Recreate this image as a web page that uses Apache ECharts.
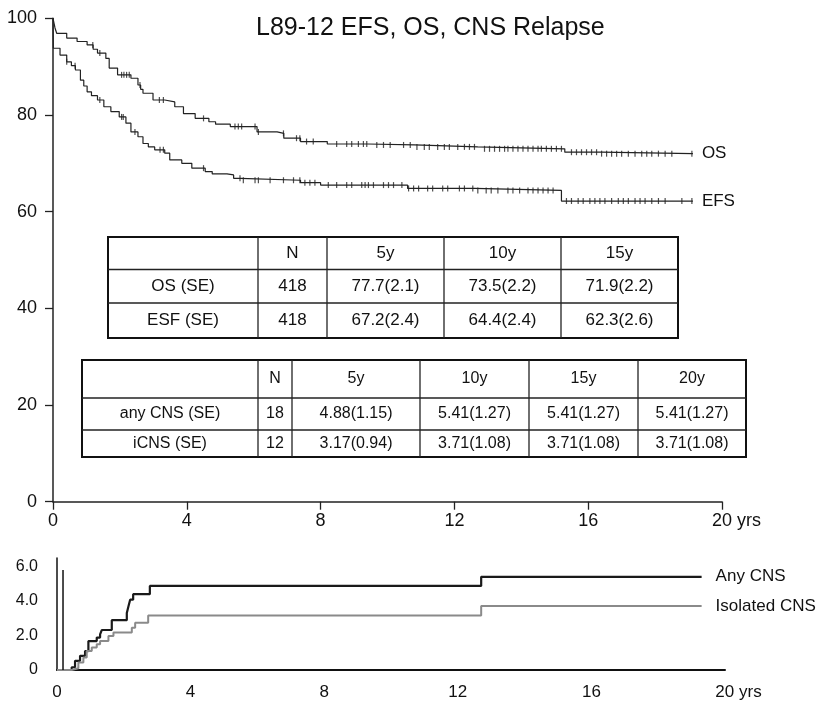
<!DOCTYPE html>
<html>
<head>
<meta charset="utf-8">
<title>L89-12 EFS, OS, CNS Relapse</title>
<script src="https://cdn.jsdelivr.net/npm/echarts@6/dist/echarts.min.js"></script>
<style>
html, body { margin: 0; padding: 0; background: #fff; }
#chart { width: 826px; height: 701px; }
</style>
</head>
<body>
<div id="chart"></div>
<script>
// survival steps: [years, %] (value holds from that year on)
const osSteps = [[0, 100], [0.03, 99], [0.06, 98], [0.11, 96.9], [0.41, 95.9], [0.72, 95.2], [1.02, 94.5], [1.2, 93.6],
  [1.33, 92.8], [1.58, 91.7], [1.68, 89.7], [1.93, 88.3], [2.33, 87.6], [2.54, 86.2], [2.62, 85.3], [2.69, 84.5],
  [2.99, 83.1], [3.34, 82.7], [3.64, 81.7], [3.9, 80.3], [4.25, 79.3], [4.66, 78.6], [4.86, 78.1], [5.3, 77.6],
  [6.1, 76.5], [6.7, 76.2], [6.9, 75.2], [7.4, 74.5], [8.2, 74.0], [9.4, 73.8], [10.8, 73.4], [12.7, 73.0],
  [15.3, 72.3], [16.4, 72.0], [19.13, 72.0]];
const efsSteps = [[0, 100], [0.01, 93.8], [0.21, 92.4], [0.41, 91.0], [0.55, 90.2], [0.67, 89.3], [0.82, 87.2],
  [0.92, 86.0], [1.02, 84.8], [1.15, 84.0], [1.33, 83.1], [1.52, 81.7], [1.73, 80.7], [1.98, 79.6], [2.18, 78.3],
  [2.33, 76.5], [2.54, 75.5], [2.69, 74.1], [2.85, 73.4], [3.04, 72.8], [3.34, 72.1], [3.49, 70.7], [3.85, 70.0],
  [4.15, 69.0], [4.55, 68.3], [4.76, 67.8], [5.2, 67.6], [5.4, 66.9], [5.6, 66.5], [7.4, 66.0], [8.0, 65.5],
  [10.6, 64.8], [12.6, 64.4], [15.2, 62.2], [19.13, 62.2]];

// censored patients (tick marks)
const osCensor = [1.19, 1.4, 2.05, 2.12, 2.2, 2.28, 2.6, 3.18, 3.3, 4.5, 5.44, 5.54, 5.64, 6.04, 6.14, 6.89, 7.28,
  7.38, 7.58, 7.78, 8.48, 8.78, 8.93, 9.13, 9.28, 9.38, 9.68, 9.88, 10.08, 10.48, 10.68, 10.88, 11.1, 11.25, 11.5,
  11.7, 11.85, 12.1, 12.3, 12.45, 12.6, 12.9, 13.05, 13.2, 13.35, 13.5, 13.6, 13.75, 13.9, 14.05, 14.2, 14.35, 14.5,
  14.6, 14.75, 14.9, 15.05, 15.2, 15.5, 15.65, 15.8, 15.95, 16.1, 16.25, 16.4, 16.55, 16.7, 16.85, 17.0, 17.2, 17.4,
  17.6, 17.75, 17.9, 18.1, 18.3, 18.5, 19.1];
const efsCensor = [0.41, 0.66, 1.4, 2.05, 2.1, 2.45, 3.2, 3.3, 4.5, 5.59, 5.69, 6.04, 6.14, 6.49, 6.89, 7.19, 7.38,
  7.53, 7.68, 7.83, 8.23, 8.48, 8.78, 8.93, 9.23, 9.33, 9.43, 9.58, 9.88, 10.03, 10.18, 10.43, 10.63, 10.78, 10.93,
  11.2, 11.35, 11.65, 11.8, 12.15, 12.3, 12.55, 12.7, 12.95, 13.1, 13.3, 13.6, 13.75, 13.95, 14.2, 14.35, 14.5, 14.65,
  14.8, 14.95, 15.35, 15.5, 15.7, 15.85, 16.05, 16.2, 16.35, 16.5, 16.7, 16.9, 17.05, 17.2, 17.4, 17.55, 17.7, 17.9,
  18.1, 18.3, 18.8, 19.1];

// cumulative CNS relapse: [years, %]
const anyCns = [[0, 0], [0.19, 0], [0.44, 0.16], [0.54, 0.53], [0.69, 0.82], [0.84, 1.1], [0.94, 1.68], [1.19, 1.88],
  [1.29, 2.07], [1.34, 2.32], [1.64, 2.89], [2.09, 3.31], [2.14, 3.7], [2.19, 4.08], [2.28, 4.4], [2.78, 4.88],
  [12.7, 5.41], [19.3, 5.41]];
const isoCns = [[0, 0], [0.24, 0], [0.44, 0.1], [0.64, 0.44], [0.79, 0.73], [0.89, 1.1], [1.04, 1.3], [1.19, 1.49],
  [1.29, 1.68], [1.54, 1.97], [1.69, 2.17], [2.24, 2.45], [2.34, 2.74], [2.73, 3.17], [12.7, 3.71], [19.3, 3.71]];
const dropLine = [[0.18, 0], [0.18, 5.8]];

// tables
const survHead = ['', 'N', '5y', '10y', '15y'];
const survRows = [
  ['OS (SE)', '418', '77.7(2.1)', '73.5(2.2)', '71.9(2.2)'],
  ['ESF (SE)', '418', '67.2(2.4)', '64.4(2.4)', '62.3(2.6)']
];
const cnsHead = ['', 'N', '5y', '10y', '15y', '20y'];
const cnsRows = [
  ['any CNS (SE)', '18', '4.88(1.15)', '5.41(1.27)', '5.41(1.27)', '5.41(1.27)'],
  ['iCNS (SE)', '12', '3.17(0.94)', '3.71(1.08)', '3.71(1.08)', '3.71(1.08)']
];

const font = "'Liberation Sans', Arial, Helvetica, sans-serif";

// value of a step curve at time t
function valueAt(steps, t) {
  let v = steps[0][1];
  for (const s of steps) { if (s[0] <= t) v = s[1]; }
  return v;
}

function tableGraphic(cols, rows, cells, fontSize) {
  const els = [];
  const x0 = cols[0], x1 = cols[cols.length - 1], y0 = rows[0], y1 = rows[rows.length - 1];
  els.push({ type: 'rect', shape: { x: x0, y: y0, width: x1 - x0, height: y1 - y0 },
    style: { fill: '#fff', stroke: '#111', lineWidth: 2 } });
  for (let i = 1; i < cols.length - 1; i++) {
    els.push({ type: 'line', shape: { x1: cols[i], y1: y0, x2: cols[i], y2: y1 }, style: { stroke: '#222', lineWidth: 1.3 } });
  }
  for (let j = 1; j < rows.length - 1; j++) {
    els.push({ type: 'line', shape: { x1: x0, y1: rows[j], x2: x1, y2: rows[j] }, style: { stroke: '#222', lineWidth: 1.3 } });
  }
  cells.forEach((row, j) => row.forEach((txt, i) => {
    if (!txt) return;
    els.push({ type: 'text', x: (cols[i] + cols[i + 1]) / 2, y: (rows[j] + rows[j + 1]) / 2,
      style: { text: txt, fontSize: fontSize, fontFamily: font, fill: '#111',
        align: 'center', verticalAlign: 'middle', textAlign: 'center', textVerticalAlign: 'middle' } });
  }));
  return els;
}

const chart = echarts.init(document.querySelector('#chart'));

const yrsLabel = (size, pad) => ({
  fontSize: size, fontFamily: font, color: '#111',
  formatter: v => v === 20 ? '{p|}20 yrs' : String(v),
  rich: { p: { width: pad } }
});

chart.setOption({
  animation: false,
  backgroundColor: '#fff',
  title: {
    text: 'L89-12 EFS, OS, CNS Relapse',
    left: 251,
    top: 11,
    textStyle: { fontSize: 25, fontWeight: 'normal', color: '#111', fontFamily: font }
  },
  grid: [
    { left: 53, top: 18.3, width: 669, height: 483.4 },
    { left: 57, top: 558, width: 668, height: 113 }
  ],
  xAxis: [
    {
      gridIndex: 0, type: 'value', min: 0, max: 20, interval: 4,
      axisLine: { lineStyle: { color: '#222', width: 1.5 } },
      axisTick: { length: 8, lineStyle: { color: '#222', width: 1.3 } },
      axisLabel: Object.assign({ margin: 10 }, yrsLabel(18, 29)),
      splitLine: { show: false }
    },
    {
      gridIndex: 1, type: 'value', min: 0, max: 20, interval: 4,
      axisLine: { lineStyle: { color: '#111', width: 2 } },
      axisTick: { show: false },
      axisLabel: Object.assign({ margin: 14 }, yrsLabel(17, 27)),
      splitLine: { show: false }
    }
  ],
  yAxis: [
    {
      gridIndex: 0, type: 'value', min: 0, max: 100, interval: 20,
      axisLine: { show: true, lineStyle: { color: '#222', width: 1.5 } },
      axisTick: { show: true, length: 8, lineStyle: { color: '#222', width: 1.3 } },
      axisLabel: { fontSize: 18, fontFamily: font, color: '#111', margin: 16 },
      splitLine: { show: false }
    },
    {
      gridIndex: 1, type: 'value', min: 0, max: 6.5, interval: 2,
      axisLine: { show: true, lineStyle: { color: '#111', width: 1.5 } },
      axisTick: { show: false },
      axisLabel: { fontSize: 16, fontFamily: font, color: '#111', margin: 19, showMaxLabel: false,
        formatter: v => v === 0 ? '0' : v.toFixed(1) },
      splitLine: { show: false }
    }
  ],
  series: [
    {
      name: 'OS', type: 'line', step: 'end', xAxisIndex: 0, yAxisIndex: 0,
      data: osSteps, symbol: 'none',
      lineStyle: { color: '#222', width: 1.2 },
      endLabel: { show: true, formatter: 'OS', distance: 9, fontSize: 17, fontFamily: font, color: '#111' }
    },
    {
      name: 'EFS', type: 'line', step: 'end', xAxisIndex: 0, yAxisIndex: 0,
      data: efsSteps, symbol: 'none',
      lineStyle: { color: '#222', width: 1.2 },
      endLabel: { show: true, formatter: 'EFS', distance: 9, fontSize: 17, fontFamily: font, color: '#111' }
    },
    {
      name: 'OS censored', type: 'scatter', xAxisIndex: 0, yAxisIndex: 0,
      data: osCensor.map(t => [t, valueAt(osSteps, t)]),
      symbol: 'rect', symbolSize: [1.2, 6], itemStyle: { color: '#222' }
    },
    {
      name: 'EFS censored', type: 'scatter', xAxisIndex: 0, yAxisIndex: 0,
      data: efsCensor.map(t => [t, valueAt(efsSteps, t)]),
      symbol: 'rect', symbolSize: [1.2, 6], itemStyle: { color: '#222' }
    },
    {
      name: 'Any CNS', type: 'line', step: 'end', xAxisIndex: 1, yAxisIndex: 1,
      data: anyCns, symbol: 'none',
      lineStyle: { color: '#1a1a1a', width: 2.2 },
      endLabel: { show: true, formatter: 'Any CNS', distance: 14, fontSize: 17, fontFamily: font, color: '#111' }
    },
    {
      name: 'Isolated CNS', type: 'line', step: 'end', xAxisIndex: 1, yAxisIndex: 1,
      data: isoCns, symbol: 'none',
      lineStyle: { color: '#8a8a8a', width: 2 },
      endLabel: { show: true, formatter: 'Isolated CNS', distance: 14, fontSize: 17, fontFamily: font, color: '#111' }
    },
    {
      name: 'drop', type: 'line', xAxisIndex: 1, yAxisIndex: 1,
      data: dropLine, symbol: 'none',
      lineStyle: { color: '#111', width: 1.5 }
    }
  ],
  graphic: tableGraphic([108, 258, 327, 444, 561, 678], [237, 269.5, 303, 338], [survHead].concat(survRows), 17)
    .concat(tableGraphic([82, 258, 292, 420, 529, 638, 746], [360, 398, 430, 457], [cnsHead].concat(cnsRows), 16))
});
</script>
</body>
</html>
